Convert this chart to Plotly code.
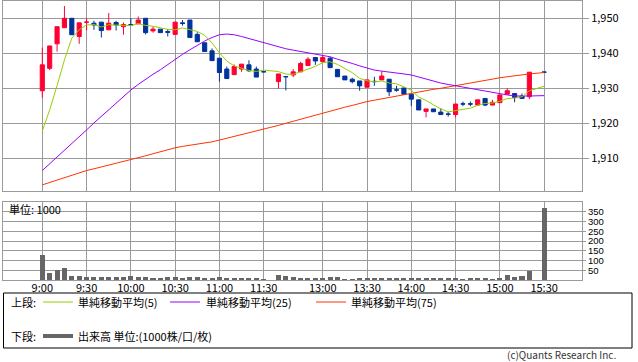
import plotly.graph_objects as go

# ---------------- data ----------------
am_times = ["9:00","9:05","9:10","9:15","9:20","9:25","9:30","9:35","9:40","9:45","9:50","9:55",
            "10:00","10:05","10:10","10:15","10:20","10:25","10:30","10:35","10:40","10:45","10:50","10:55",
            "11:00","11:05","11:10","11:15","11:20","11:25","11:30"]
pm_times = ["12:30","12:35","12:40","12:45","12:50","12:55","13:00","13:05","13:10","13:15","13:20","13:25",
            "13:30","13:35","13:40","13:45","13:50","13:55","14:00","14:05","14:10","14:15","14:20","14:25",
            "14:30","14:35","14:40","14:45","14:50","14:55","15:00","15:05","15:10","15:15","15:20","15:30"]
times = am_times + pm_times

opens = [1929.3,1935.7,1942.7,1947.3,1950.0,1944.8,1948.9,1948.6,1948.9,1946.7,1948.8,1947.6,
         1948.2,1948.4,1950.0,1946.4,1946.9,1946.2,1945.4,1948.7,1949.5,1945.4,1943.0,1940.7,
         1938.6,1935.5,1933.9,1935.5,1936.7,1935.5,1934.75,
         1931.9,1933.35,1933.8,1934.7,1936.5,1938.8,1937.6,1938.6,1935.4,1933.5,1932.6,1932.1,
         1930.3,1932.0,1932.4,1932.6,1929.55,1930.1,1928.3,1926.7,1923.4,1924.1,1923.2,1922.65,
         1922.5,1925.55,1925.55,1925.2,1927.1,1925.2,1925.9,1928.3,1928.5,1927.8,1927.6,1934.65]
highs = [1941.6,1942.1,1947.6,1953.5,1950.0,1948.7,1950.0,1949.3,1948.9,1951.5,1949.3,1948.8,
         1950.0,1950.5,1950.0,1947.6,1946.9,1946.9,1948.9,1949.5,1949.5,1946.0,1943.0,1941.4,
         1938.6,1936.2,1936.8,1936.9,1938.0,1936.2,1934.75,
         1934.1,1933.35,1935.5,1937.6,1938.9,1938.8,1939.2,1939.0,1935.4,1933.5,1933.0,1932.1,
         1932.4,1933.3,1934.9,1932.6,1930.7,1930.1,1928.3,1926.7,1924.1,1924.1,1924.3,1923.3,
         1925.5,1926.2,1926.2,1926.7,1927.1,1926.7,1928.1,1930.0,1928.5,1928.5,1934.6,1934.65]
lows = [1927.3,1935.2,1940.5,1947.3,1945.3,1942.7,1946.5,1946.7,1944.5,1946.7,1946.5,1945.3,
        1948.0,1948.4,1945.4,1945.9,1945.9,1944.8,1945.4,1947.9,1944.5,1943.3,1940.5,1937.9,
        1931.9,1932.8,1933.9,1934.7,1934.7,1933.2,1934.7,
        1929.9,1929.4,1933.2,1934.7,1936.5,1936.7,1937.6,1935.9,1933.3,1932.4,1931.4,1929.3,
        1930.3,1930.7,1932.4,1927.8,1929.0,1928.3,1924.9,1923.8,1921.7,1923.3,1922.5,1921.9,
        1921.7,1924.9,1924.9,1925.2,1924.9,1925.2,1925.9,1928.3,1926.0,1927.1,1926.9,1934.6]
closes = [1936.7,1942.1,1947.6,1950.0,1945.3,1948.7,1948.9,1948.1,1946.5,1948.6,1948.1,1948.2,
          1948.1,1949.5,1945.9,1946.9,1945.9,1946.0,1948.9,1948.5,1944.5,1943.3,1940.5,1937.9,
          1934.5,1932.8,1936.2,1936.9,1935.0,1933.2,1934.7,
          1934.1,1933.3,1934.7,1937.1,1938.3,1937.8,1938.8,1935.9,1933.3,1932.4,1931.9,1930.7,
          1932.4,1931.9,1933.5,1929.0,1929.5,1928.3,1926.9,1923.8,1924.1,1923.3,1922.5,1922.6,
          1925.5,1925.5,1925.5,1926.7,1925.2,1926.0,1928.1,1929.3,1927.4,1927.1,1934.6,1934.6]
prev_closes = [1912.0, 1913.0, 1913.0, 1914.3]   # closes before 9:00 used by the 5-bar average

ma25 = [1906.5,1908.4,1910.4,1912.3,1914.3,1916.2,1918.1,1920.1,1922.0,1924.0,1925.9,1927.7,
        1929.5,1931.1,1932.6,1934.0,1935.3,1936.8,1938.3,1939.7,1941.0,1942.3,1943.5,1944.5,
        1945.3,1945.5,1945.3,1944.8,1944.2,1943.6,1942.9,
        1941.8,1941.3,1940.9,1940.5,1940.2,1939.8,1939.5,1939.0,1938.3,1937.8,1937.1,1936.4,
        1935.7,1935.2,1934.9,1934.7,1934.4,1934.1,1933.8,1933.2,1932.6,1932.0,1931.5,1931.1,
        1930.7,1930.4,1930.1,1929.7,1929.2,1928.8,1928.4,1928.1,1927.8,1927.7,1927.8,1927.9]
ma75 = [1902.4,1903.1,1903.8,1904.5,1905.2,1905.9,1906.5,1907.0,1907.5,1908.0,1908.5,1909.0,
        1909.5,1910.1,1910.7,1911.3,1911.9,1912.5,1913.0,1913.4,1913.7,1914.0,1914.3,1914.7,
        1915.2,1915.7,1916.2,1916.8,1917.3,1917.8,1918.3,
        1919.4,1920.0,1920.6,1921.2,1921.8,1922.4,1923.0,1923.5,1924.1,1924.6,1925.1,1925.7,
        1926.2,1926.6,1927.0,1927.5,1927.9,1928.3,1928.7,1929.0,1929.4,1929.7,1930.0,1930.4,
        1930.7,1931.1,1931.5,1931.9,1932.3,1932.7,1933.0,1933.3,1933.6,1933.8,1934.1,1934.5]
volumes = [130,37,50,64,18,18,17,13,17,15,13,13,18,13,17,8,8,13,17,10,13,17,10,12,13,8,8,8,8,8,3,
           28,18,13,8,8,8,8,15,13,3,3,8,8,8,8,8,8,8,12,8,8,8,8,8,8,3,8,8,8,3,8,25,13,18,44,370]

tick_labels = ["9:00","9:30","10:00","10:30","11:00","11:30","13:00","13:30","14:00","14:30","15:00","15:30"]
price_ticks = [1910, 1920, 1930, 1940, 1950]
vol_ticks = [50, 100, 150, 200, 250, 300, 350]

# ---------------- helpers ----------------
def slot(t):
    h, m = map(int, t.split(":"))
    mins = h * 60 + m
    if mins <= 690:
        return (mins - 540) / 5
    return (mins - 750) / 5 + 32

xs = [slot(t) for t in times]
series = prev_closes + closes
ma5 = [sum(series[i:i + 5]) / 5 for i in range(len(closes))]

W, H = 638, 362
ML, MR, MT, MB = 3, 56, 1, 82
PW, PH = W - ML - MR, H - MT - MB
PLOT_BOTTOM = H - MB

def px(x):
    return (x - ML) / PW

def py(y):
    return (PLOT_BOTTOM - y) / PH

FONT = "Noto Sans CJK JP, sans-serif"
NUMFONT = "Liberation Sans, Arial, sans-serif"
GRID = "#9a9a9a"

fig = go.Figure()

fig.add_trace(go.Scatter(x=xs, y=ma75, mode="lines", line=dict(color="#ff3300", width=1),
                         xaxis="x", yaxis="y", hoverinfo="skip", showlegend=False))
fig.add_trace(go.Scatter(x=xs, y=ma25, mode="lines", line=dict(color="#9900ff", width=1),
                         xaxis="x", yaxis="y", hoverinfo="skip", showlegend=False))
fig.add_trace(go.Scatter(x=xs, y=ma5, mode="lines", line=dict(color="#99cc00", width=1),
                         xaxis="x", yaxis="y", hoverinfo="skip", showlegend=False))
fig.add_trace(go.Candlestick(
    x=xs, open=opens, high=highs, low=lows, close=closes,
    increasing=dict(line=dict(color="#ff0033", width=1), fillcolor="#ff0033"),
    decreasing=dict(line=dict(color="#003399", width=1), fillcolor="#003399"),
    whiskerwidth=0, xaxis="x", yaxis="y", showlegend=False, hoverinfo="skip"))
fig.add_trace(go.Bar(x=xs, y=volumes, width=0.68, marker=dict(color="#666666", line=dict(width=0)),
                     xaxis="x2", yaxis="y2", showlegend=False, hoverinfo="skip"))

tickvals = [slot(t) for t in tick_labels]
xr = [(ML - 42.3) / 7.38, (ML + PW - 42.3) / 7.38]

main_top, main_bot = 1, 190.5
vol_top = 202
ax_common = dict(showline=True, mirror=True, linecolor=GRID, linewidth=1,
                 showgrid=True, gridcolor=GRID, gridwidth=1, zeroline=False)

fig.update_layout(
    width=W, height=H,
    margin=dict(l=ML, r=MR, t=MT, b=MB, pad=0),
    paper_bgcolor="white", plot_bgcolor="white",
    font=dict(family=FONT, size=11, color="#000000"),
    boxgap=0.2,
    xaxis=dict(range=xr, domain=[0, 1], anchor="y", tickvals=tickvals, showticklabels=False,
               ticks="", rangeslider=dict(visible=False), **ax_common),
    yaxis=dict(range=[1954.94 - (main_bot - main_top) / 3.5, 1954.94], domain=[py(main_bot), 1],
               anchor="x", side="right", tickvals=price_ticks, tickformat=",d",
               ticks="outside", ticklen=6, tickcolor=GRID, tickfont=dict(size=11, family=FONT), **ax_common),
    xaxis2=dict(range=xr, domain=[0, 1], anchor="y2", tickvals=tickvals, ticktext=tick_labels,
                ticks="", ticklabelstandoff=-2, tickfont=dict(size=11, family=FONT), **ax_common),
    yaxis2=dict(range=[0, (PLOT_BOTTOM - vol_top) / 9.75 * 50], domain=[0, py(vol_top)],
                anchor="x2", side="right", tickvals=vol_ticks,
                ticks="outside", ticklen=3, tickcolor=GRID, tickfont=dict(size=9.5, family=NUMFONT), **ax_common),
    bargap=0,
)

shapes = []
annos = []

def text(x, y, s, size=11, anchor="left", color="#000000"):
    annos.append(dict(x=px(x), y=py(y), xref="paper", yref="paper", text=s, showarrow=False,
                      xanchor=anchor, yanchor="middle", font=dict(size=size, color=color, family=FONT)))

def hline(x0, x1, y, color, width):
    shapes.append(dict(type="line", xref="paper", yref="paper", x0=px(x0), x1=px(x1), y0=py(y), y1=py(y),
                       line=dict(color=color, width=width)))

# legend box
shapes.append(dict(type="rect", xref="paper", yref="paper", x0=px(3.5), x1=px(632), y0=py(293), y1=py(348),
                   line=dict(color="#000000", width=1)))
text(9, 302, "上段:")
hline(43, 73, 302, "#99cc00", 1)
text(76, 302, "単純移動平均(5)")
hline(170, 200, 302, "#9900ff", 1)
text(204, 302, "単純移動平均(25)")
hline(316, 346, 302, "#ff3300", 1)
text(349, 302, "単純移動平均(75)")
text(9, 336, "下段:")
hline(43, 73, 336, "#666666", 4)
text(76, 336, "出来高 単位:(1000株/口/枚)")

text(7, 209, "単位: 1000")
text(618, 354, "(c)Quants Research Inc.", size=10, anchor="right", color="#333333")

fig.update_layout(shapes=shapes, annotations=annos)
fig.write_html("out.html", config={"displayModeBar": False, "staticPlot": True},
               post_script="document.body.style.margin='0';document.body.style.overflow='hidden';")
